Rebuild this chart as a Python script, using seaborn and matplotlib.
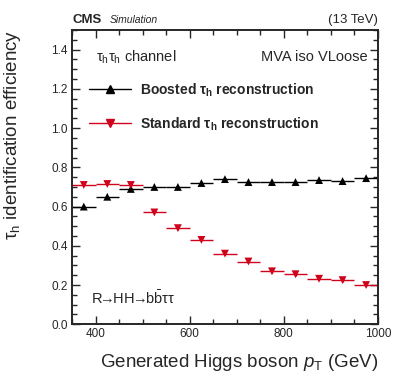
import numpy as np
import pandas as pd
import seaborn as sns
import matplotlib.pyplot as plt
from matplotlib.lines import Line2D
from matplotlib.ticker import MultipleLocator

# Werte
pt_centers = [375, 425, 475, 525, 575, 625, 675, 725, 775, 825, 875, 925, 975]
pt_halfwidth = [25] * 13
eff_boosted = [0.60, 0.65, 0.69, 0.70, 0.70, 0.72, 0.74, 0.725, 0.725, 0.725, 0.735, 0.73, 0.745]
err_boosted = [0.006] * 13
eff_standard = [0.71, 0.715, 0.71, 0.57, 0.49, 0.43, 0.36, 0.32, 0.27, 0.255, 0.232, 0.225, 0.20]
err_standard = [0.007] * 13

df = pd.DataFrame({
    'pt': pt_centers * 2,
    'eff': eff_boosted + eff_standard,
    'err': err_boosted + err_standard,
    'reco': ['Boosted'] * 13 + ['Standard'] * 13,
})

red = '#d0021b'
colors = {'Boosted': 'black', 'Standard': red}
markers = {'Boosted': '^', 'Standard': 'v'}

sns.set_style('ticks')
plt.rcParams['font.family'] = ['Liberation Sans', 'DejaVu Sans']
plt.rcParams['mathtext.fontset'] = 'custom'
plt.rcParams['mathtext.rm'] = 'Liberation Sans'
plt.rcParams['mathtext.it'] = 'Liberation Sans:italic'
plt.rcParams['mathtext.bf'] = 'Liberation Sans:bold'

fig = plt.figure(figsize=(3.99, 3.83), dpi=100)
ax = fig.add_axes([0.1805, 0.1533, 0.7665, 0.7684])

for reco in ['Boosted', 'Standard']:
    sub = df[df['reco'] == reco]
    ax.errorbar(sub['pt'], sub['eff'], xerr=pt_halfwidth, yerr=sub['err'],
                fmt='none', ecolor=colors[reco], elinewidth=1.0, capsize=0, zorder=2)
sns.scatterplot(data=df, x='pt', y='eff', hue='reco', style='reco',
                palette=colors, markers=markers, s=32, edgecolor='none',
                legend=False, ax=ax, zorder=3)

ax.set_xlim(350, 1000)
ax.set_ylim(0, 1.5)
ax.xaxis.set_major_locator(MultipleLocator(200))
ax.xaxis.set_minor_locator(MultipleLocator(50))
ax.yaxis.set_major_locator(MultipleLocator(0.2))
ax.yaxis.set_minor_locator(MultipleLocator(0.05))
ax.yaxis.set_major_formatter(plt.FuncFormatter(lambda v, p: f'{v:.1f}'))
ax.tick_params(which='both', direction='in', top=True, right=True, width=1.0,
               labelsize=8.5, pad=3)
ax.tick_params(which='major', length=6)
ax.tick_params(which='minor', length=3.5)
for s in ax.spines.values():
    s.set_linewidth(1.4)

ax.set_xlabel(r'Generated Higgs boson $p_{\mathrm{T}}$ (GeV)', fontsize=13.5, loc='right')
ax.xaxis.set_label_coords(1.0, -0.095)
ax.set_ylabel(r'τ$_{\mathrm{h}}$ identification efficiency', fontsize=13.5, loc='top')
ax.yaxis.set_label_coords(-0.16, 1.0)

handles = [
    Line2D([], [], color='black', marker='^', markersize=5.5, lw=1.0),
    Line2D([], [], color=red, marker='v', markersize=5.5, lw=1.0),
]
labels = [r'Boosted τ$_{\mathbf{h}}$ reconstruction',
          r'Standard τ$_{\mathbf{h}}$ reconstruction']
ax.legend(handles, labels, loc='upper left', bbox_to_anchor=(0.055, 0.826),
          frameon=False, numpoints=1, borderpad=0, borderaxespad=0,
          handlelength=3.0, handletextpad=0.65, labelspacing=1.2,
          prop={'weight': 'bold', 'size': 10})

ax.text(0.078, 0.908, r'τ$_{\mathrm{h}}$τ$_{\mathrm{h}}$ channel', transform=ax.transAxes,
        fontsize=10.5, ha='left', va='center')
ax.text(0.967, 0.908, 'MVA iso VLoose', transform=ax.transAxes,
        fontsize=10.5, ha='right', va='center')
ax.text(0.062, 0.09,
        r'R$\!\!\rightarrow\!\!$HH$\!\!\rightarrow\!\!$b$\bar{\mathrm{b}}$ττ',
        transform=ax.transAxes, fontsize=10.5, ha='left', va='center')

ax.text(0.0, 1.035, 'CMS', transform=ax.transAxes, fontsize=9.5, fontweight='bold',
        ha='left', va='center')
ax.text(0.122, 1.033, 'Simulation', transform=ax.transAxes, fontsize=7.5, style='italic',
        ha='left', va='center')
ax.text(1.0, 1.035, '(13 TeV)', transform=ax.transAxes, fontsize=9.5,
        ha='right', va='center')

fig.savefig('out.png', dpi=100)
